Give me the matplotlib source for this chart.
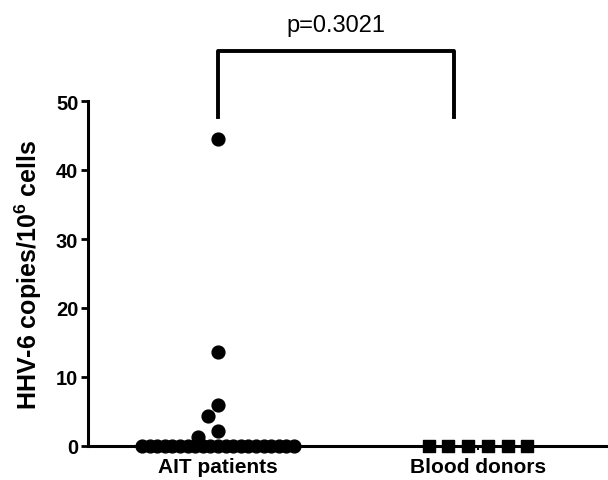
import numpy as np
import matplotlib
matplotlib.use("Agg")
import matplotlib.pyplot as plt

# data
groups = ["AIT patients", "Blood donors"]
ait_values = [0.0] * 21 + [1.3, 2.2, 4.3, 6.0, 13.6, 44.5]
donor_values = [0.0] * 6
p_text = "p=0.3021"
yticks = [0, 10, 20, 30, 40, 50]

plt.rcParams['font.family'] = ['Liberation Sans', 'DejaVu Sans']
plt.rcParams['mathtext.fontset'] = 'custom'
plt.rcParams['mathtext.rm'] = 'Liberation Sans:bold'
plt.rcParams['mathtext.default'] = 'rm'


def swarm_offsets(values, row_px, step_px, min_px, ppx, ppy):
    """tied values go in a row, the rest are placed greedily without overlap"""
    values = np.asarray(values, dtype=float)
    offs = np.zeros(len(values))
    uniq, counts = np.unique(values, return_counts=True)
    singles = []
    for v, c in zip(uniq, counts):
        idx = np.where(values == v)[0]
        if c > 1:
            offs[idx] = (np.arange(c) - (c - 1) / 2) * row_px / ppx
        else:
            singles.append(idx[0])
    singles.sort(key=lambda i: -values[i])
    placed = []
    for i in singles:
        y = values[i] * ppy
        for k in [0, -1, 1, -2, 2, -3, 3, -4, 4]:
            x = k * step_px
            if all(np.hypot(x - px, y - py) >= min_px for px, py in placed):
                break
        placed.append((x, y))
        offs[i] = x / ppx
    return offs


fig = plt.figure(figsize=(6.08, 4.81), dpi=100)
ax = fig.add_axes([88 / 608, 34 / 481, 520 / 608, 345 / 481])
ax.set_xlim(0.5, 2.5)
ax.set_ylim(0, 50)

# pixel scale of the axes, used for the swarm layout
x0, y0 = ax.transData.transform((0, 0))
x1, y1 = ax.transData.transform((1, 1))
ppx, ppy = x1 - x0, y1 - y0

pos = np.arange(1, len(groups) + 1)
ait_x = pos[0] + swarm_offsets(ait_values, 7.6, 10, 13, ppx, ppy)
don_x = pos[1] + swarm_offsets(donor_values, 19.7, 10, 13, ppx, ppy)

ax.scatter(ait_x, ait_values, s=85, marker='o', color='black', clip_on=False, zorder=3)
ax.scatter(don_x, donor_values, s=80, marker='s', color='black', clip_on=False, zorder=3)

# significance bracket
bx = [pos[0], pos[0], pos[0] + 0.906, pos[0] + 0.906]
by = [47.7, 57.2, 57.2, 47.7]
ax.plot(bx, by, color='black', lw=2.8, clip_on=False, solid_joinstyle='round')
ax.text((bx[0] + bx[2]) / 2, 61.0, p_text, ha='center', va='center', fontsize=17)

ax.set_xticks(pos)
ax.set_xticklabels(groups, fontsize=15, fontweight='bold')
ax.set_yticks(yticks)
ax.set_yticklabels([str(t) for t in yticks], fontsize=14.5, fontweight='bold')
ax.tick_params(axis='y', length=5, width=2, pad=2)
ax.tick_params(axis='x', length=3, width=1.5, pad=5)

ax.set_ylabel('HHV-6 copies/10$^6$ cells', fontsize=18, fontweight='bold')
ax.yaxis.set_label_coords(-0.085, 0.5)

for s in ['top', 'right']:
    ax.spines[s].set_visible(False)
for s in ['left', 'bottom']:
    ax.spines[s].set_linewidth(2.2)

plt.savefig('out.png', dpi=100)
